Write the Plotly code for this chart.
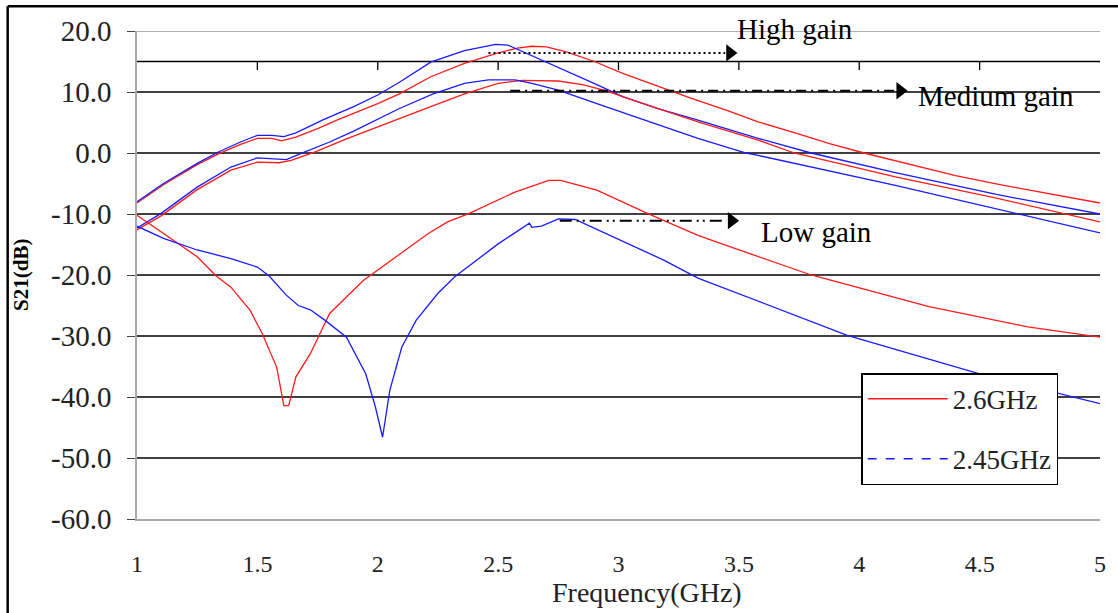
import plotly.graph_objects as go

# ---- measured S21 (dB) versus frequency (GHz) ----
# 2.6 GHz design, high-gain state
f_26_high = [1.00, 1.11, 1.25, 1.34, 1.43, 1.50, 1.56, 1.60, 1.66, 1.75, 1.83, 2.00, 2.09,
             2.22, 2.36, 2.50, 2.58, 2.64, 2.70, 2.78, 2.90, 3.02, 3.16, 3.30, 3.45, 3.58,
             3.74, 3.88, 4.02, 4.20, 4.40, 4.60, 4.80, 5.00]
s21_26_high = [-8.2, -5.2, -1.9, -0.1, 1.4, 2.4, 2.4, 2.0, 2.6, 4.0, 5.4, 8.1, 9.7,
               12.5, 14.7, 16.4, 17.2, 17.5, 17.4, 16.6, 15.0, 13.0, 11.0, 9.0, 7.0, 5.1,
               3.2, 1.5, 0.0, -1.8, -3.7, -5.3, -6.8, -8.2]

# 2.45 GHz design, high-gain state
f_245_high = [1.00, 1.11, 1.25, 1.34, 1.43, 1.50, 1.56, 1.61, 1.66, 1.77, 1.90, 2.00, 2.09,
              2.22, 2.36, 2.43, 2.49, 2.54, 2.58, 2.64, 2.75, 2.91, 3.02, 3.16, 3.33, 3.58,
              3.80, 4.15, 4.57, 5.00]
s21_245_high = [-8.0, -5.0, -1.7, 0.2, 1.8, 2.9, 2.9, 2.7, 3.3, 5.4, 7.6, 9.5, 11.6,
                14.9, 16.8, 17.4, 17.8, 17.7, 17.0, 16.0, 14.1, 11.2, 9.2, 7.3, 5.4, 2.4,
                0.0, -3.2, -6.8, -10.0]

# 2.6 GHz design, medium-gain state
f_26_med = [1.00, 1.10, 1.25, 1.39, 1.50, 1.59, 1.64, 1.74, 1.87, 2.00, 2.09, 2.22, 2.36,
            2.50, 2.60, 2.70, 2.75, 2.85, 2.95, 3.02, 3.16, 3.33, 3.58, 3.73, 4.15, 4.57, 5.00]
s21_26_med = [-12.6, -10.3, -6.0, -2.8, -1.5, -1.6, -1.2, 0.2, 2.3, 4.3, 5.6, 7.6, 9.7,
              11.4, 11.9, 11.9, 11.8, 11.2, 10.2, 9.2, 7.3, 5.1, 2.1, 0.0, -3.9, -7.4, -11.3]

# 2.45 GHz design, medium-gain state
f_245_med = [1.00, 1.10, 1.25, 1.39, 1.50, 1.55, 1.62, 1.68, 1.80, 1.90, 1.99, 2.09, 2.23,
             2.36, 2.46, 2.57, 2.64, 2.75, 2.91, 3.02, 3.33, 3.53, 3.58, 4.15, 4.57, 5.00]
s21_245_med = [-12.3, -9.9, -5.6, -2.3, -0.8, -0.9, -1.1, -0.1, 1.8, 3.6, 5.4, 7.3, 9.7,
               11.4, 12.0, 12.0, 11.4, 10.3, 8.1, 6.6, 2.4, 0.0, -0.4, -5.3, -9.2, -13.1]

# 2.6 GHz design, low-gain state
f_26_low = [1.00, 1.11, 1.25, 1.33, 1.39, 1.47, 1.52, 1.58, 1.61, 1.63, 1.66, 1.72, 1.80,
            1.94, 2.21, 2.29, 2.38, 2.57, 2.71, 2.76, 2.91, 3.12, 3.33, 3.40, 3.74, 3.80,
            4.29, 4.70, 5.00]
s21_26_low = [-10.2, -13.2, -17.0, -20.2, -22.0, -25.8, -29.6, -35.1, -41.4, -41.4, -36.7,
              -32.9, -26.3, -20.9, -13.2, -11.3, -9.9, -6.4, -4.5, -4.5, -6.1, -9.9, -13.5,
              -14.5, -19.2, -20.0, -25.2, -28.5, -30.2]

# 2.45 GHz design, low-gain state
f_245_low = [1.00, 1.11, 1.25, 1.39, 1.50, 1.55, 1.62, 1.67, 1.72, 1.78, 1.87, 1.95, 1.99,
             2.02, 2.05, 2.10, 2.16, 2.25, 2.32, 2.50, 2.63, 2.64, 2.68, 2.75, 2.82, 2.98,
             3.19, 3.33, 3.60, 3.95, 4.50, 5.00]
s21_245_low = [-12.0, -14.0, -15.9, -17.3, -18.7, -20.2, -23.3, -25.0, -25.7, -27.4, -30.2,
               -36.2, -41.6, -46.6, -38.9, -31.8, -27.4, -23.0, -20.3, -14.9, -11.5, -12.2,
               -12.0, -10.8, -10.9, -13.8, -17.6, -20.5, -24.6, -29.9, -36.2, -41.1]

# axis ticks
x_ticks = [1, 1.5, 2, 2.5, 3, 3.5, 4, 4.5, 5]
x_tick_text = ["1", "1.5", "2", "2.5", "3", "3.5", "4", "4.5", "5"]
y_ticks = [20, 10, 0, -10, -20, -30, -40, -50, -60]
grid_db = [10, 0, -10, -20, -30, -40, -50]
X_RANGE = [1, 5]
Y_RANGE = [-60, 20]

# gain-state labels with their arrows
state_labels = ["High gain", "Medium gain", "Low gain"]
label_x = [3.485, 4.237, 3.584]
label_y = [20.4, 9.3, -13.0]
arrow_from = [2.46, 2.55, 2.756]
arrow_to = [3.493, 4.20, 3.50]
arrow_y = [16.4, 10.2, -11.1]
arrow_dash = ["2px,3px", "10px,5px,2px,5px", "12px,5px,2px,4px,2px,5px"]

# reference rule near the top with short drop ticks
rule_db = 15.0
rule_ticks = [1.5, 2.0, 2.5, 3.0, 3.5, 4.0, 4.5]

RED = "#ff1a1a"
BLUE = "#1a1aff"
SERIF = "Liberation Serif"


def to_paper_x(v):
    return (v - X_RANGE[0]) / (X_RANGE[1] - X_RANGE[0])


def to_paper_y(v):
    return (v - Y_RANGE[0]) / (Y_RANGE[1] - Y_RANGE[0])


fig = go.Figure()

curves = [
    (f_26_high, s21_26_high, RED),
    (f_245_high, s21_245_high, BLUE),
    (f_26_med, s21_26_med, RED),
    (f_245_med, s21_245_med, BLUE),
    (f_26_low, s21_26_low, RED),
    (f_245_low, s21_245_low, BLUE),
]
for fx, sy, col in curves:
    fig.add_trace(go.Scatter(x=fx, y=sy, mode="lines", line=dict(color=col, width=1.3),
                             showlegend=False, hoverinfo="skip"))

# legend entries
fig.add_trace(go.Scatter(x=[None], y=[None], mode="lines", name="2.6GHz",
                         legendgroup="a", line=dict(color=RED, width=1.5)))
fig.add_trace(go.Scatter(x=[None], y=[None], mode="lines", name="2.45GHz",
                         legendgroup="b", line=dict(color=BLUE, width=1.5, dash="dash")))

# arrows: dashed shaft + triangular head
for x0, x1, yv, dsh in zip(arrow_from, arrow_to, arrow_y, arrow_dash):
    fig.add_trace(go.Scatter(x=[x0, x1 - 0.05], y=[yv, yv], mode="lines",
                             line=dict(color="black", width=2, dash=dsh),
                             showlegend=False, hoverinfo="skip"))
    fig.add_trace(go.Scatter(x=[x1 - 0.03], y=[yv], mode="markers",
                             marker=dict(symbol="triangle-right", size=15, color="black"),
                             showlegend=False, hoverinfo="skip", cliponaxis=False))

shapes = []
for g in grid_db:
    shapes.append(dict(type="line", xref="paper", yref="y", x0=0, x1=1, y0=g, y1=g,
                       line=dict(color="black", width=1.5), layer="below"))
# top border line of the plot area
shapes.append(dict(type="line", xref="paper", yref="y", x0=0, x1=1, y0=20, y1=20,
                   line=dict(color="#b0b0b0", width=2), layer="below"))
# reference rule with ticks
shapes.append(dict(type="line", xref="paper", yref="y", x0=0, x1=1, y0=rule_db, y1=rule_db,
                   line=dict(color="black", width=1.5), layer="below"))
for t in rule_ticks:
    shapes.append(dict(type="line", xref="x", yref="y", x0=t, x1=t, y0=rule_db,
                       y1=rule_db - 1.4, line=dict(color="black", width=1.3), layer="below"))
# outer frame (left and top)
shapes.append(dict(type="line", xref="paper", yref="paper", x0=-0.1343, x1=-0.1343,
                   y0=-0.3, y1=1.0506, line=dict(color="black", width=2.5)))
shapes.append(dict(type="line", xref="paper", yref="paper", x0=-0.1343, x1=1.1,
                   y0=1.0506, y1=1.0506, line=dict(color="black", width=2.5)))

annotations = []
for txt, lx, ly in zip(state_labels, label_x, label_y):
    annotations.append(dict(x=to_paper_x(lx), y=to_paper_y(ly), xref="paper", yref="paper",
                            text=txt, showarrow=False, xanchor="left", yanchor="middle",
                            font=dict(family=SERIF, size=29, color="black")))
annotations.append(dict(x=0.5296, y=-0.1515, xref="paper", yref="paper",
                        text="Frequency(GHz)", showarrow=False, xanchor="center",
                        yanchor="middle", font=dict(family=SERIF, size=28, color="#222")))
annotations.append(dict(x=-0.1205, y=0.5, xref="paper", yref="paper", text="<b>S21(dB)</b>",
                        showarrow=False, textangle=-90, xanchor="center", yanchor="middle",
                        font=dict(family=SERIF, size=21, color="black")))

fig.update_layout(
    width=1118, height=613, autosize=False,
    margin=dict(l=137, r=13, t=31, b=94),
    paper_bgcolor="white", plot_bgcolor="white",
    shapes=shapes, annotations=annotations,
    xaxis=dict(range=X_RANGE, tickvals=x_ticks, ticktext=x_tick_text, showgrid=False,
               zeroline=False, showline=True, linecolor="#a8a8a8", linewidth=1.5,
               ticks="", ticklabelstandoff=22,
               tickfont=dict(family=SERIF, size=24, color="#222")),
    yaxis=dict(range=Y_RANGE, tickvals=y_ticks, ticktext=[f"{v:.1f}" for v in y_ticks],
               showgrid=False, zeroline=False, showline=True, linecolor="#a8a8a8",
               linewidth=1.5, ticks="outside", ticklen=8, tickwidth=1.3, tickcolor="#444",
               ticklabelstandoff=10,
               tickfont=dict(family=SERIF, size=29, color="#222")),
    legend=dict(x=0.752, y=0.299, xanchor="left", yanchor="top", bgcolor="white",
                bordercolor="black", borderwidth=1.5, itemwidth=80,
                traceorder="grouped", tracegroupgap=22,
                font=dict(family=SERIF, size=27, color="#222")),
)

fig.write_html("out.html")
